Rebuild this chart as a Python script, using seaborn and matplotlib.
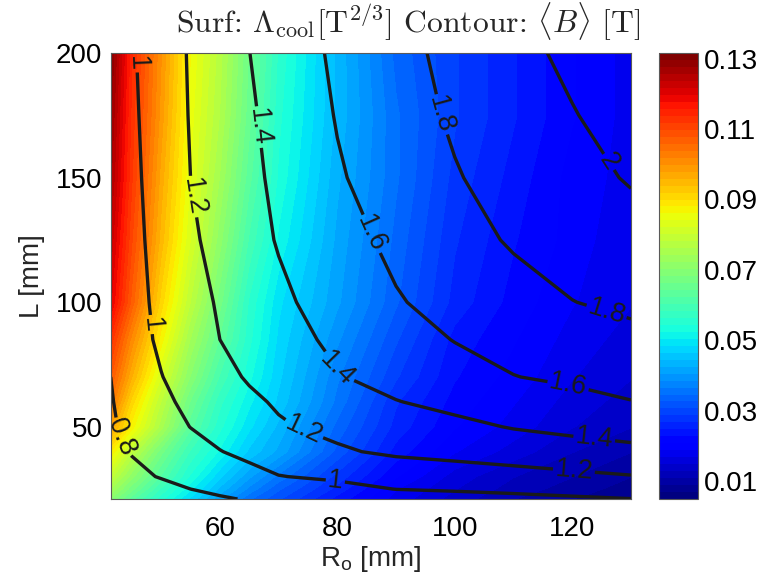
import numpy as np
import matplotlib
matplotlib.use("Agg")
import matplotlib.pyplot as plt
from matplotlib.colors import Normalize
from matplotlib.cm import ScalarMappable
import seaborn as sns

# ---- data ----
R_mm = [41.4, 45, 50, 55, 60, 65, 70, 80, 90, 100, 110, 120, 130]
L_mm = [21, 25, 30, 40, 50, 60, 70, 85, 100, 125, 150, 175, 200]

# Lambda_cool [T^(2/3)], one row per L value (ascending), columns follow R_mm
lambda_L21 = [0.070, 0.063, 0.055, 0.048, 0.041, 0.035, 0.031, 0.024, 0.018, 0.014, 0.011, 0.009, 0.007]
lambda_L25 = [0.074, 0.067, 0.058, 0.051, 0.044, 0.038, 0.033, 0.026, 0.019, 0.015, 0.012, 0.010, 0.008]
lambda_L30 = [0.079, 0.071, 0.062, 0.054, 0.047, 0.041, 0.036, 0.028, 0.021, 0.016, 0.013, 0.011, 0.009]
lambda_L40 = [0.088, 0.078, 0.067, 0.058, 0.052, 0.046, 0.042, 0.032, 0.024, 0.019, 0.016, 0.013, 0.011]
lambda_L50 = [0.098, 0.087, 0.075, 0.063, 0.055, 0.049, 0.044, 0.034, 0.026, 0.021, 0.018, 0.015, 0.013]
lambda_L60 = [0.104, 0.091, 0.078, 0.066, 0.057, 0.051, 0.046, 0.036, 0.027, 0.022, 0.019, 0.016, 0.014]
lambda_L70 = [0.108, 0.096, 0.082, 0.070, 0.060, 0.053, 0.047, 0.037, 0.029, 0.023, 0.020, 0.017, 0.015]
lambda_L85 = [0.113, 0.101, 0.087, 0.074, 0.064, 0.055, 0.048, 0.039, 0.031, 0.024, 0.021, 0.018, 0.016]
lambda_L100 = [0.120, 0.107, 0.091, 0.078, 0.067, 0.056, 0.049, 0.041, 0.033, 0.026, 0.022, 0.019, 0.017]
lambda_L125 = [0.123, 0.110, 0.095, 0.082, 0.071, 0.060, 0.052, 0.042, 0.034, 0.027, 0.023, 0.020, 0.017]
lambda_L150 = [0.126, 0.112, 0.097, 0.084, 0.074, 0.063, 0.054, 0.043, 0.035, 0.028, 0.024, 0.020, 0.018]
lambda_L175 = [0.128, 0.113, 0.099, 0.085, 0.076, 0.065, 0.055, 0.044, 0.035, 0.029, 0.025, 0.021, 0.018]
lambda_L200 = [0.130, 0.114, 0.100, 0.086, 0.077, 0.066, 0.056, 0.044, 0.034, 0.029, 0.025, 0.021, 0.018]

# <B> [T], same layout
B_L21 = [0.62, 0.66, 0.71, 0.75, 0.785, 0.81, 0.83, 0.87, 0.905, 0.93, 0.955, 0.978, 0.997]
B_L25 = [0.66, 0.70, 0.75, 0.80, 0.83, 0.86, 0.89, 0.95, 1.003, 1.02, 1.037, 1.054, 1.072]
B_L30 = [0.72, 0.76, 0.81, 0.854, 0.905, 0.95, 0.995, 1.027, 1.06, 1.093, 1.127, 1.16, 1.19]
B_L40 = [0.764, 0.809, 0.871, 0.933, 0.995, 1.039, 1.082, 1.175, 1.235, 1.265, 1.295, 1.325, 1.354]
B_L50 = [0.78, 0.842, 0.923, 1.003, 1.058, 1.115, 1.18, 1.25, 1.30, 1.358, 1.41, 1.445, 1.48]
B_L60 = [0.79, 0.863, 0.964, 1.04, 1.104, 1.167, 1.221, 1.307, 1.394, 1.447, 1.497, 1.547, 1.595]
B_L70 = [0.80, 0.881, 0.995, 1.073, 1.148, 1.218, 1.275, 1.389, 1.461, 1.528, 1.596, 1.629, 1.66]
B_L85 = [0.82, 0.93, 1.028, 1.114, 1.20, 1.264, 1.328, 1.438, 1.524, 1.606, 1.657, 1.708, 1.759]
B_L100 = [0.83, 0.94, 1.042, 1.133, 1.219, 1.292, 1.365, 1.48, 1.586, 1.66, 1.728, 1.797, 1.833]
B_L125 = [0.85, 0.95, 1.063, 1.172, 1.258, 1.337, 1.412, 1.533, 1.64, 1.73, 1.82, 1.87, 1.927]
B_L150 = [0.86, 0.96, 1.081, 1.20, 1.28, 1.36, 1.436, 1.582, 1.689, 1.788, 1.867, 1.94, 2.015]
B_L175 = [0.87, 0.97, 1.094, 1.21, 1.293, 1.377, 1.457, 1.61, 1.72, 1.824, 1.908, 1.99, 2.077]
B_L200 = [0.89, 0.98, 1.105, 1.216, 1.307, 1.398, 1.482, 1.633, 1.745, 1.849, 1.945, 2.04, 2.12]

contour_levels = [0.8, 1.0, 1.2, 1.4, 1.6, 1.8, 2.0]
cbar_ticks = [0.01, 0.03, 0.05, 0.07, 0.09, 0.11, 0.13]
x_ticks = [60, 80, 100, 120]
y_ticks = [50, 100, 150, 200]
color_min, color_max = 0.005, 0.1315

lambda_grid = np.array([lambda_L21, lambda_L25, lambda_L30, lambda_L40, lambda_L50,
                        lambda_L60, lambda_L70, lambda_L85, lambda_L100, lambda_L125,
                        lambda_L150, lambda_L175, lambda_L200])
B_grid = np.array([B_L21, B_L25, B_L30, B_L40, B_L50, B_L60, B_L70, B_L85, B_L100,
                   B_L125, B_L150, B_L175, B_L200])

# ---- styling ----
sns.set_theme(style="white")
plt.rcParams['font.family'] = ['Liberation Sans', 'DejaVu Sans']
plt.rcParams['mathtext.fontset'] = 'custom'
plt.rcParams['mathtext.rm'] = 'Liberation Sans'
plt.rcParams['mathtext.it'] = 'Liberation Sans:italic'

fig = plt.figure(figsize=(7.65, 5.85), dpi=100)
ax = fig.add_axes([0.1447, 0.147, 0.68, 0.762])
cax = fig.add_axes([0.862, 0.147, 0.051, 0.762])

cmap = matplotlib.colormaps['jet'].resampled(64)
norm = Normalize(vmin=color_min, vmax=color_max)

Rg, Lg = np.meshgrid(R_mm, L_mm)
ax.contourf(Rg, Lg, lambda_grid, levels=np.linspace(color_min, color_max, 65),
            cmap=cmap, norm=norm, antialiased=False)
cs = ax.contour(Rg, Lg, B_grid, levels=contour_levels, colors='k', linewidths=2.4)

label_spots = [(44.4, 196), (48.1, 91), (79.6, 26.6),
               (53.2, 141.6), (73.6, 44.8), (120.2, 29.5),
               (64.6, 169.8), (78.7, 70.2), (123.6, 42),
               (83.8, 125.4), (119.1, 63.7),
               (97, 175), (125.3, 92),
               (125.3, 154.9),
               (42.5, 45)]
ax.clabel(cs, fmt='%g', fontsize=19.5, inline=True, inline_spacing=2, manual=label_spots)

ax.set_xlim(R_mm[0], R_mm[-1])
ax.set_ylim(L_mm[0], L_mm[-1])
ax.set_xticks(x_ticks)
ax.set_yticks(y_ticks)
ax.tick_params(length=0, labelsize=20, colors='black')
ax.tick_params(axis='x', pad=12)
ax.tick_params(axis='y', pad=6)
for s in ax.spines.values():
    s.set_color('0.35')
    s.set_linewidth(0.8)

ax.set_xlabel(r'R$_\mathrm{o}$ [mm]', fontsize=20, labelpad=2)
ax.set_ylabel('L [mm]', fontsize=20, labelpad=8)

cb = fig.colorbar(ScalarMappable(norm=norm, cmap=cmap), cax=cax, ticks=cbar_ticks)
cb.ax.set_yticklabels(['%g' % t for t in cbar_ticks])
cb.ax.tick_params(labelsize=20, direction='in', length=3, left=True, right=False,
                  colors='black', pad=4)
cb.outline.set_edgecolor('0.35')
cb.outline.set_linewidth(0.8)

fig.text(0.533, 0.962,
         r'Surf: $\Lambda_{\mathrm{cool}}[\mathrm{T}^{2/3}]$ Contour: $\langle B\rangle$ [T]',
         fontsize=22.8, ha='center', va='center', family='cmr10', math_fontfamily='cm')

fig.savefig('out.png', dpi=100)
